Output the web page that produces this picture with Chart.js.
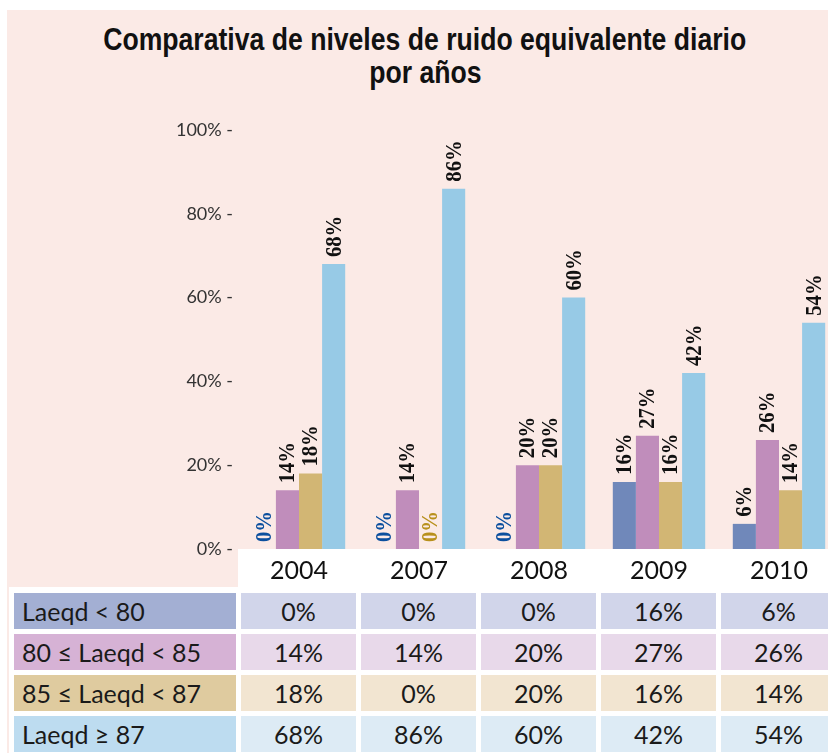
<!DOCTYPE html>
<html lang="es">
<head>
<meta charset="utf-8">
<title>Comparativa de niveles de ruido equivalente diario por años</title>
<script src="https://cdn.jsdelivr.net/npm/chart.js@4/dist/chart.umd.min.js"></script>
<style>
  html, body { margin: 0; padding: 0; background: #ffffff; }
  #page { position: relative; width: 828px; height: 753px; overflow: hidden; background: #ffffff; }
  .pink { position: absolute; background: #FBEAE6; }
  #title {
    position: absolute; left: 0; top: 23px; width: 850px; text-align: center;
    font-family: "Liberation Sans", Arial, sans-serif;
    font-weight: bold; font-size: 31px; line-height: 33px; color: #111;
  }
  #title span { display: inline-block; white-space: nowrap; transform-origin: 50% 50%; }
  #chartBox { position: absolute; left: 0; top: 0; width: 840px; height: 586px; }
  #levels {
    position: absolute; left: 9px; top: 588px; width: 832px;
    table-layout: fixed;
    border-collapse: separate; border-spacing: 5px 5px;
    font-family: Lato, "Open Sans", sans-serif; font-size: 25px; color: #1a1a1a;
  }
  #levels td { height: 36px; padding: 0; white-space: nowrap; overflow: hidden; }
  #levels td.head { width: 222px; padding-left: 8px; box-sizing: border-box; text-align: left; }
  #levels td.val { width: 115px; text-align: center; }
</style>
</head>
<body>
<div id="page">
  <div class="pink" style="left:7px; top:10px; width:821px; height:539px;"></div>
  <div class="pink" style="left:7px; top:549px; width:231px; height:38px;"></div>
  <div class="pink" style="left:7px; top:587px; width:2px; height:166px;"></div>
  <div id="title"><span id="titleLine1">Comparativa de niveles de ruido equivalente diario</span><br><span id="titleLine2">por años</span></div>
  <div id="chartBox"><canvas id="chart"></canvas></div>
  <table id="levels">
    <colgroup><col style="width:222px"><col style="width:115px"><col style="width:115px"><col style="width:115px"><col style="width:115px"><col style="width:115px"></colgroup>
    <tbody></tbody>
  </table>
</div>
<script>
// Years compared
const years = ['2004', '2007', '2008', '2009', '2010'];

// Noise level bands (dB(A), daily equivalent level)
const bandNames = ['Laeqd < 80', '80 ≤ Laeqd < 85', '85 ≤ Laeqd < 87', 'Laeqd ≥ 87'];

// Share of measurements per band and year (%)
const below80    = [0, 0, 0, 16, 6];
const from80to85 = [14, 14, 20, 27, 26];
const from85to87 = [18, 0, 20, 16, 14];
const above87    = [68, 86, 60, 42, 54];

// Y axis ticks (%)
const yTicks = [0, 20, 40, 60, 80, 100];

const bandValues = [below80, from80to85, from85to87, above87];
const barColors  = ['#7088BA', '#C08DBB', '#D2B674', '#97CAE6'];
const zeroLabelColors = ['#0B4F9E', '#8F5A8A', '#B8901C', '#3C86B8'];
const headColors = ['#A3AFD3', '#D6B2D5', '#DFCB9F', '#BDDCF0'];
const cellColors = ['#D1D5EA', '#E8D9EA', '#F2E5D1', '#DDEBF5'];

// Condensed look for the heading: squeeze the first line to 643px
(function condenseTitle() {
  const l1 = document.getElementById('titleLine1');
  const l2 = document.getElementById('titleLine2');
  const k = 643 / l1.getBoundingClientRect().width;
  l1.style.transform = 'scaleX(' + k + ')';
  l2.style.transform = 'scaleX(' + k + ')';
})();

// Table under the chart
const tbody = document.querySelector('#levels tbody');
bandNames.forEach((name, i) => {
  const tr = document.createElement('tr');
  const th = document.createElement('td');
  th.className = 'head';
  th.style.background = headColors[i];
  th.textContent = name;
  tr.appendChild(th);
  bandValues[i].forEach(v => {
    const td = document.createElement('td');
    td.className = 'val';
    td.style.background = cellColors[i];
    td.textContent = v + '%';
    tr.appendChild(td);
  });
  tbody.appendChild(tr);
});

// Vertical value labels above each bar
const barValueLabels = {
  id: 'barValueLabels',
  afterDatasetsDraw(chart) {
    const ctx = chart.ctx;
    chart.data.datasets.forEach((ds, i) => {
      const meta = chart.getDatasetMeta(i);
      meta.data.forEach((bar, j) => {
        const v = ds.data[j];
        ctx.save();
        ctx.translate(bar.x, bar.y - 7);
        ctx.rotate(-Math.PI / 2);
        ctx.scale(0.9, 1);
        ctx.font = 'bold 23px "Liberation Serif", serif';
        ctx.textAlign = 'left';
        ctx.textBaseline = 'middle';
        ctx.fillStyle = v === 0 ? zeroLabelColors[i] : '#111111';
        ctx.fillText(v + '%', 0, 1);
        ctx.restore();
      });
    });
  }
};

new Chart(document.getElementById('chart'), {
  type: 'bar',
  data: {
    labels: years,
    datasets: bandNames.map((name, i) => ({
      label: name,
      data: bandValues[i],
      backgroundColor: barColors[i],
      borderWidth: 0,
      categoryPercentage: 0.77,
      barPercentage: 1.0
    }))
  },
  options: {
    responsive: true,
    maintainAspectRatio: false,
    animation: false,
    layout: { padding: { top: 130, right: 1, left: 0, bottom: 0 } },
    plugins: {
      legend: { display: false },
      title: { display: false },
      tooltip: { enabled: false }
    },
    scales: {
      x: {
        grid: { display: false, drawTicks: false },
        border: { display: false },
        ticks: {
          color: '#111',
          font: { family: 'Lato, "Open Sans", sans-serif', size: 25 },
          padding: 7
        },
        afterFit(scale) { scale.height = 37; }
      },
      y: {
        min: 0,
        max: 100,
        afterBuildTicks(scale) { scale.ticks = yTicks.map(v => ({ value: v })); },
        grid: { display: false, drawTicks: false },
        border: { display: false },
        ticks: {
          color: '#333',
          font: { family: 'Lato, "Open Sans", sans-serif', size: 18 },
          padding: 6,
          callback: v => v + '% -'
        },
        afterFit(scale) { scale.width = 239; }
      }
    }
  },
  plugins: [barValueLabels]
});
</script>
</body>
</html>
